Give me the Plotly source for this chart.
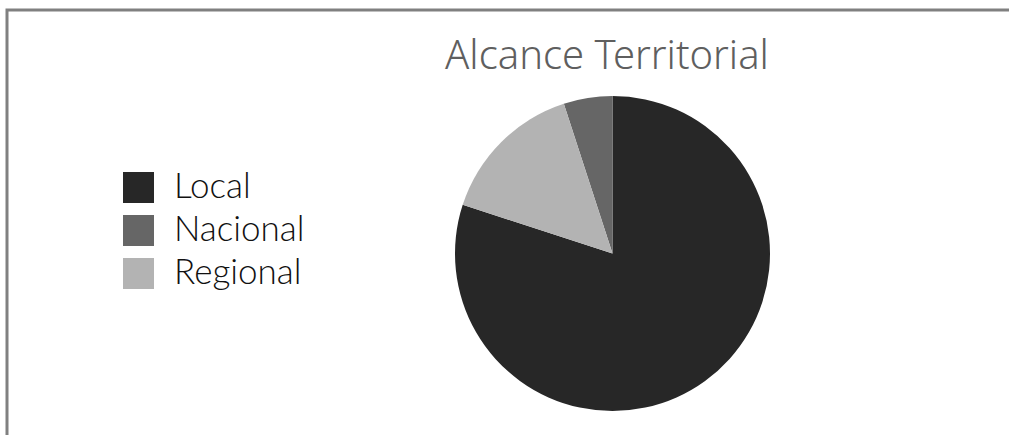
import plotly.graph_objects as go

labels = ["Local", "Nacional", "Regional"]
values = [80, 5, 15]
colors = ["#272727", "#666666", "#b3b3b3"]
title_text = "Alcance Territorial"

W, H = 1009, 435
TITLE_FONT = "Noto Sans"
LEG_FONT = "Lato"

fig = go.Figure(go.Pie(
    labels=labels,
    values=values,
    sort=False,
    direction="counterclockwise",
    rotation=0,
    marker=dict(colors=colors, line=dict(width=0)),
    textinfo="none",
    hoverinfo="label+percent",
    showlegend=False,
    domain=dict(x=[412.5 / W, 812.5 / W], y=[24 / H, 339 / H]),
))

shapes = []
annotations = []
# custom legend with large square swatches
for i, (lab, col) in enumerate(zip(labels, colors)):
    top = 172 + i * 43
    shapes.append(dict(type="rect", xref="paper", yref="paper",
                       x0=123 / W, x1=154 / W,
                       y0=1 - (top + 31) / H, y1=1 - top / H,
                       fillcolor=col, line=dict(width=0)))
    annotations.append(dict(text=lab, xref="paper", yref="paper",
                            x=172 / W, y=1 - (top + 12) / H,
                            xanchor="left", yanchor="middle", showarrow=False,
                            font=dict(family=LEG_FONT, size=35, weight=300,
                                      color="#111111")))

# frame lines (left and top)
shapes.append(dict(type="path", xref="paper", yref="paper",
                   path=f"M {7/W},{-0.05} L {7/W},{1-10/H} L {1.05},{1-10/H}",
                   line=dict(color="#808080", width=3)))

fig.update_layout(
    width=W, height=H,
    margin=dict(l=0, r=0, t=0, b=0),
    paper_bgcolor="white",
    plot_bgcolor="white",
    title=dict(text=title_text, x=607 / W, xanchor="center",
               y=1 - 55 / H, yanchor="middle", yref="paper",
               font=dict(family=TITLE_FONT, size=40, weight=300,
                         color="#5f5f5f")),
    shapes=shapes,
    annotations=annotations,
)

fig.write_html("out.html", config={"displayModeBar": False},
               post_script="document.body.style.margin='0';")
